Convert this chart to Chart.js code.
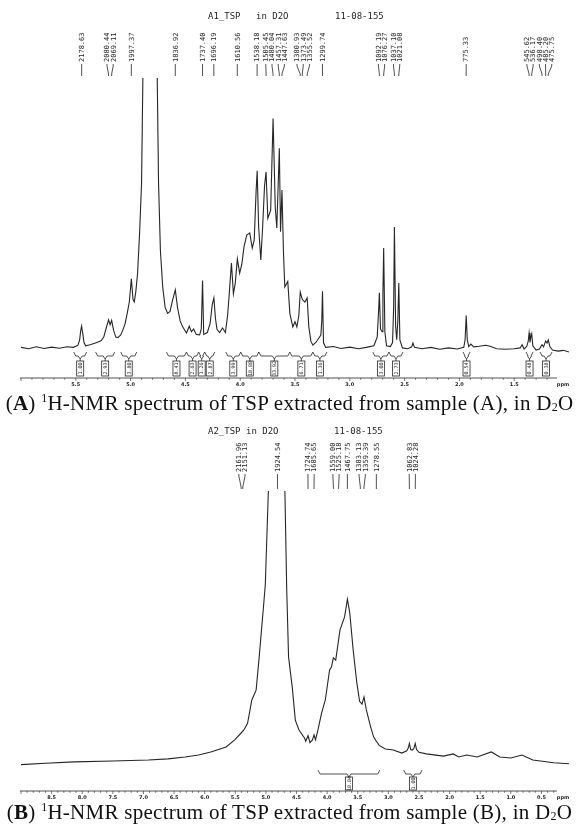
<!DOCTYPE html>
<html>
<head>
<meta charset="utf-8">
<script src="https://cdn.jsdelivr.net/npm/chart.js@4.4.1/dist/chart.umd.min.js"></script>
<style>
  body { margin: 0; background: #fff; width: 579px; height: 825px; position: relative; overflow: hidden; }
  canvas { position: absolute; left: 0; }
  .cap { position: absolute; left: 0; width: 579px; text-align: center; font: 21px "Liberation Serif", serif; letter-spacing: 0.27px; line-height: 22px; color: #111; white-space: nowrap; }
  .cap sup { font-size: 12px; vertical-align: 8px; line-height: 0; }
  .cap sub { font-size: 12px; vertical-align: -1px; line-height: 0; }
</style>
</head>
<body>
<canvas id="chartA" width="579" height="392" style="top:0"></canvas>
<div class="cap" style="top:392px">(<b>A</b>) <sup>1</sup>H-NMR spectrum of TSP extracted from sample (A), in D<sub>2</sub>O</div>
<canvas id="chartB" width="579" height="390" style="top:415px"></canvas>
<div class="cap" style="top:801px">(<b>B</b>) <sup>1</sup>H-NMR spectrum of TSP extracted from sample (B), in D<sub>2</sub>O</div>
<script>
// ---- panel A : A1_TSP ----
const titleA = ["A1_TSP", "in D2O", "11-08-155"];
const ppmA = [6.00, 5.93, 5.86, 5.79, 5.72, 5.65, 5.58, 5.52, 5.48, 5.465, 5.455, 5.447, 5.437, 5.425, 5.41, 5.37, 5.32, 5.27, 5.245, 5.225,
  5.201, 5.187, 5.173, 5.155, 5.135, 5.115, 5.09, 5.072, 5.05, 5.03, 5.012, 4.993, 4.978, 4.966, 4.952, 4.936, 4.918, 4.90, 4.888, 4.815,
  4.757, 4.745, 4.728, 4.707, 4.685, 4.662, 4.64, 4.618, 4.592, 4.572, 4.548, 4.525, 4.49, 4.465, 4.445, 4.425, 4.40, 4.37, 4.355, 4.3435,
  4.333, 4.30, 4.275, 4.255, 4.240, 4.226, 4.212, 4.188, 4.161, 4.135, 4.115, 4.10, 4.08, 4.062, 4.045, 4.026, 4.005, 3.985, 3.965, 3.94,
  3.913, 3.89, 3.872, 3.855, 3.845, 3.832, 3.812, 3.795, 3.778, 3.764, 3.748, 3.722, 3.700, 3.680, 3.666, 3.643, 3.632, 3.619, 3.605, 3.593,
  3.566, 3.547, 3.52, 3.50, 3.483, 3.465, 3.452, 3.434, 3.41, 3.389, 3.374, 3.355, 3.337, 3.31, 3.285, 3.264, 3.256, 3.249, 3.240, 3.22,
  3.15, 3.08, 3.00, 2.92, 2.85, 2.78, 2.750, 2.737, 2.730, 2.720, 2.705, 2.698, 2.691, 2.680, 2.665, 2.63, 2.61, 2.600, 2.593, 2.582,
  2.572, 2.562, 2.553, 2.543, 2.52, 2.47, 2.435, 2.424, 2.41, 2.34, 2.26, 2.18, 2.10, 2.02, 1.96, 1.948, 1.938, 1.928, 1.915, 1.895,
  1.87, 1.82, 1.76, 1.72, 1.66, 1.58, 1.50, 1.445, 1.428, 1.41, 1.385, 1.372, 1.364, 1.356, 1.348, 1.340, 1.330, 1.30, 1.27, 1.246,
  1.232, 1.213, 1.20, 1.189, 1.175, 1.15, 1.10, 1.05, 1.00];
const intA = [0.2, -0.3, 0.4, -0.2, 0.3, -0.1, 0.4, 0.2, 1.0, 3.0, 6.5, 8.1, 5.5, 2.0, 0.8, 1.2, 1.8, 2.6, 4.0, 7.0,
  10.4, 8.6, 10.2, 6.5, 4.0, 3.8, 4.8, 6.5, 9.0, 13.0, 17.0, 25.6, 18.0, 17.0, 21.0, 27.7, 42.6, 61.0, 100, 500,
  100, 61.0, 36.0, 22.6, 15.0, 12.8, 13.5, 17.5, 21.5, 15.0, 10.0, 7.8, 5.5, 8.0, 6.0, 7.0, 5.0, 4.8, 7.0, 25.0,
  5.0, 5.7, 9.0, 16.0, 18.5, 11.0, 6.9, 5.7, 7.4, 5.7, 12.0, 20.0, 31.4, 20.0, 24.0, 33.0, 27.7, 31.0, 37.5, 41.8,
  42.6, 37.0, 40.0, 58.0, 65.6, 45.0, 32.6, 45.0, 60.0, 65.2, 48.0, 51.0, 85.0, 52.0, 44.4, 74.0, 43.0, 58.5, 35.0, 22.6,
  24.6, 12.8, 7.8, 9.7, 7.8, 12.0, 20.7, 18.0, 17.0, 18.5, 7.8, 2.5, 1.0, 2.0, 3.5, 4.8, 10.0, 21.0, 2.0, 0.2,
  0.5, -0.2, 0.3, -0.3, 0.2, 0.8, 4.0, 14.0, 20.4, 7.0, 6.0, 20.0, 37.0, 6.0, 0.8, 0.5, 2.0, 15.0, 44.8, 8.0,
  3.0, 10.0, 24.0, 3.0, 0.0, -0.3, 0.4, 1.8, 0.2, -0.3, 0.2, -0.5, 0.0, -0.4, 0.2, 3.0, 12.0, 3.0, 0.5, 1.4,
  0.4, 0.6, 1.0, 0.6, -0.3, -0.5, -0.3, 0.0, 1.2, -0.4, 0.6, 2.5, 5.5, 2.0, 4.0, 5.2, 0.8, -0.8, -0.4, 1.2,
  0.4, 2.6, 1.8, 3.0, 0.5, -0.8, -1.2, -0.9, -1.5];
const peaksHzA = [2178.63, 2080.44, 2069.11, 1997.37, 1836.92, 1737.40, 1696.19, 1610.56, 1538.18, 1505.45, 1480.04, 1457.31, 1447.63,
  1380.93, 1373.49, 1355.52, 1299.74, 1092.19, 1076.27, 1037.10, 1021.08, 775.33, 545.62, 536.17, 498.40, 485.20, 475.75];
const integFromA = [5.519, 5.319, 5.090, 4.673, 4.490, 4.379, 4.324, 4.131, 3.995, 3.830, 3.547, 3.337, 2.790, 2.643, 1.967, 1.392, 1.264];
const integToA = [5.401, 5.145, 4.944, 4.490, 4.379, 4.324, 4.232, 3.995, 3.830, 3.547, 3.337, 3.209, 2.643, 2.515, 1.903, 1.328, 1.155];
const integValA = ["1.00", "2.93", "3.80", "8.41", "2.63", "1.26", "2.87", "3.99", "18.88", "33.92", "6.71", "1.36", "3.00", "2.73", "0.54", "0.48", "0.38"];

// ---- panel B : A2_TSP ----
const titleB = ["A2_TSP", "in D2O", "11-08-155"];
const ppmB = [9.00, 8.60, 8.13, 7.50, 6.92, 6.60, 6.32, 6.10, 5.90, 5.65, 5.51, 5.405, 5.36, 5.30, 5.23, 5.16, 5.11, 5.04, 5.01, 4.96,
  4.82, 4.69, 4.66, 4.63, 4.57, 4.52, 4.46, 4.37, 4.35, 4.312, 4.28, 4.24, 4.214, 4.19, 4.15, 4.09, 4.03, 3.96, 3.93, 3.898,
  3.86, 3.79, 3.715, 3.669, 3.63, 3.575, 3.515, 3.47, 3.43, 3.398, 3.36, 3.29, 3.24, 3.196, 3.15, 3.05, 2.92, 2.78, 2.70, 2.675,
  2.657, 2.635, 2.61, 2.585, 2.561, 2.54, 2.50, 2.38, 2.10, 1.94, 1.85, 1.72, 1.55, 1.32, 1.18, 1.00, 0.82, 0.64, 0.30, 0.05];
const intB = [0.5, 1.0, 1.5, 1.8, 2.2, 2.6, 3.3, 4.0, 5.1, 6.9, 9.5, 12.0, 13.1, 15.5, 24.0, 27.6, 39.6, 57.8, 66.0, 100,
  600, 100, 64.0, 39.6, 28.7, 16.7, 13.1, 10.2, 9.0, 11.0, 8.5, 9.5, 11.3, 9.5, 13.1, 19.3, 24.0, 34.9, 36.0, 39.3,
  38.5, 49.5, 54.2, 60.7, 55.6, 42.2, 30.2, 23.5, 22.5, 25.1, 20.4, 14.2, 10.5, 9.0, 7.5, 6.2, 5.8, 4.7, 5.5, 6.5,
  8.2, 6.0, 5.8, 6.3, 8.2, 6.0, 5.0, 4.4, 3.6, 4.4, 3.3, 4.0, 3.3, 5.1, 3.3, 2.9, 4.0, 2.2, 1.2, 0.8];
const peaksHzB = [2161.96, 2151.13, 1924.54, 1724.74, 1685.65, 1559.00, 1525.18, 1467.75, 1383.13, 1359.39, 1278.55, 1062.83, 1024.28];
const integFromB = [4.15, 2.75];
const integToB = [3.14, 2.45];
const integValB = ["18.84", "1.00"];

const SF = 400; // spectrometer frequency, MHz
const INK = "#262626";

function spread(xs, gap) {
  let groups = xs.map((x) => ({ s: x, n: 1, sum: x }));
  let changed = true;
  while (changed) {
    changed = false;
    for (let i = 0; i < groups.length - 1; i++) {
      const a = groups[i], b = groups[i + 1];
      if (b.s - (a.s + (a.n - 1) * gap) < gap) {
        const n = a.n + b.n, sum = a.sum + b.sum;
        groups.splice(i, 2, { n, sum, s: sum / n - ((n - 1) * gap) / 2 });
        changed = true;
        break;
      }
    }
  }
  const out = [];
  groups.forEach((g) => { for (let k = 0; k < g.n; k++) out.push(g.s + k * gap); });
  return out;
}

// draws title, peak labels, integrals and the ppm axis with the chart's x scale
const nmrDecor = {
  id: "nmrDecor",
  afterDraw(chart, args, o) {
    const ctx = chart.ctx;
    const xs = chart.scales.x;
    const area = chart.chartArea;
    ctx.save();
    ctx.fillStyle = INK;
    ctx.strokeStyle = INK;
    ctx.lineWidth = 0.8;

    // title
    ctx.font = '9px "DejaVu Sans Mono"';
    ctx.textBaseline = "middle";
    ctx.textAlign = "left";
    o.title.forEach((t, i) => ctx.fillText(t, o.titleX[i], o.titleY));

    // peak labels
    const px = o.peaks.map((hz) => xs.getPixelForValue(hz / SF));
    const lx = spread(px, 6.2);
    ctx.font = '7px "DejaVu Sans Mono"';
    o.peaks.forEach((hz, i) => {
      ctx.save();
      ctx.translate(lx[i], o.labelBottom);
      ctx.rotate(-Math.PI / 2);
      ctx.textAlign = "left";
      ctx.textBaseline = "middle";
      ctx.fillText(hz.toFixed(2), 0, 0.5);
      ctx.restore();
      ctx.beginPath();
      ctx.moveTo(lx[i], o.lineTop);
      ctx.lineTo(lx[i], o.lineTop + 2);
      ctx.lineTo(px[i], o.lineBottom - 2);
      ctx.lineTo(px[i], o.lineBottom);
      ctx.stroke();
    });

    // integrals
    ctx.font = '5px "DejaVu Sans Mono"';
    o.integFrom.forEach((f, i) => {
      const x1 = xs.getPixelForValue(f);
      const x2 = xs.getPixelForValue(o.integTo[i]);
      const cx = (x1 + x2) / 2;
      const y = o.braceY;
      ctx.beginPath();
      ctx.moveTo(x1, y - 4);
      ctx.lineTo(x1 + 2, y);
      ctx.lineTo(cx - 2, y);
      ctx.lineTo(cx, y + 3);
      ctx.lineTo(cx + 2, y);
      ctx.lineTo(x2 - 2, y);
      ctx.lineTo(x2, y - 4);
      ctx.moveTo(cx, y + 3);
      ctx.lineTo(cx, o.boxTop);
      ctx.stroke();
      ctx.strokeRect(cx - 3.5, o.boxTop, 7, o.boxH);
      ctx.save();
      ctx.translate(cx, o.boxTop + o.boxH / 2);
      ctx.rotate(-Math.PI / 2);
      ctx.textAlign = "center";
      ctx.textBaseline = "middle";
      ctx.fillText(o.integVal[i], 0, 0.5);
      ctx.restore();
    });

    // ppm axis
    const axL = area.left - 1, axR = area.right - 12;
    ctx.beginPath();
    ctx.moveTo(axL, o.axisY);
    ctx.lineTo(axR, o.axisY);
    ctx.stroke();
    ctx.lineWidth = 0.6;
    const lo = Math.ceil(xs.min * 10), hi = Math.floor(xs.max * 10);
    for (let k = lo; k <= hi; k++) {
      const x = xs.getPixelForValue(k / 10);
      if (x < axL || x > axR) continue;
      const major = k % 5 === 0;
      ctx.beginPath();
      ctx.moveTo(x, o.axisY);
      ctx.lineTo(x, o.axisY + (major ? 3 : 1.8));
      ctx.stroke();
    }
    ctx.font = 'bold 5px "DejaVu Sans"';
    ctx.textAlign = "center";
    ctx.textBaseline = "middle";
    for (let k = Math.ceil(xs.min * 2); k <= Math.floor(xs.max * 2); k++) {
      const v = k / 2;
      const x = xs.getPixelForValue(v);
      if (x < axL + 10 || x > axR - 8) continue;
      ctx.fillText(v.toFixed(1), x, o.tickY);
    }
    ctx.fillText("ppm", area.right - 6, o.tickY);
    ctx.restore();
  },
};

function makeSpectrum(id, ppm, inten, xMin, xMax, yMin, pad, decor) {
  const points = ppm.map((p, i) => ({ x: p, y: inten[i] }));
  return new Chart(document.getElementById(id), {
    type: "line",
    data: {
      datasets: [{
        data: points,
        borderColor: INK,
        borderWidth: 1.1,
        pointRadius: 0,
        tension: 0,
        fill: false,
      }],
    },
    options: {
      responsive: false,
      animation: false,
      events: [],
      layout: { padding: pad },
      plugins: { legend: { display: false }, tooltip: { enabled: false }, nmrDecor: decor },
      scales: {
        x: { type: "linear", reverse: true, min: xMin, max: xMax, display: false },
        y: { min: yMin, max: 100, display: false },
      },
    },
    plugins: [nmrDecor],
  });
}

makeSpectrum("chartA", ppmA, intA, 1.0, 6.0, -3, { left: 21, right: 10, top: 78, bottom: 36 }, {
  title: titleA, titleX: [208, 256, 335], titleY: 17,
  peaks: peaksHzA, labelBottom: 62, lineTop: 64, lineBottom: 76,
  integFrom: integFromA, integTo: integToA, integVal: integValA,
  braceY: 356, boxTop: 361, boxH: 15,
  axisY: 378, tickY: 385,
});

makeSpectrum("chartB", ppmB, intB, 0.05, 9.0, -2, { left: 21, right: 10, top: 76, bottom: 33.5 }, {
  title: titleB, titleX: [208, 246, 334], titleY: 17,
  peaks: peaksHzB, labelBottom: 57, lineTop: 59, lineBottom: 74,
  integFrom: integFromB, integTo: integToB, integVal: integValB,
  braceY: 359, boxTop: 362, boxH: 13,
  axisY: 376, tickY: 383,
});
</script>
</body>
</html>
